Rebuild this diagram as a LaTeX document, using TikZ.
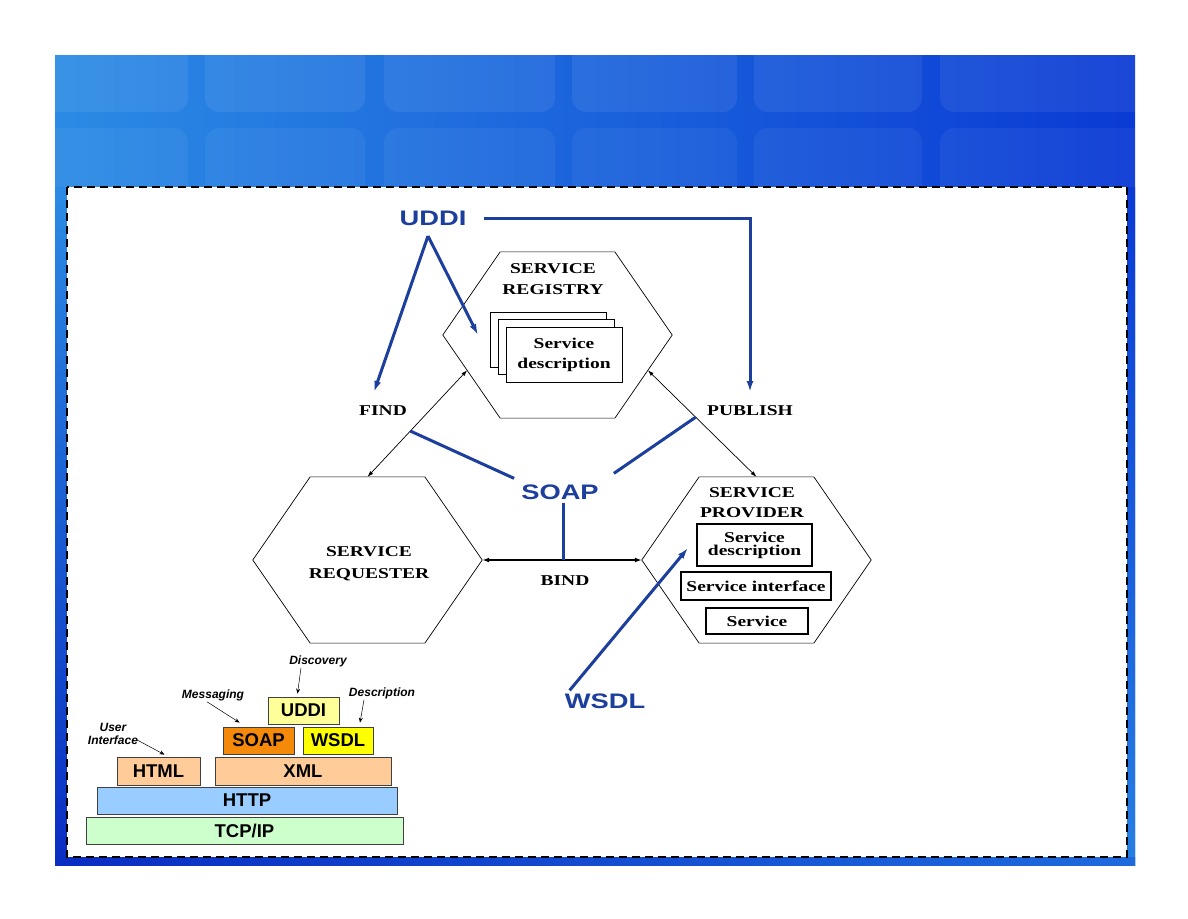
\documentclass[tikz,border=0pt]{standalone}
\usepackage{fontspec}
\setmainfont{Liberation Sans}
\newfontfamily\diagserif[FakeStretch=1.3]{Liberation Serif}
\newfontfamily\diagsans[FakeStretch=1.3]{Liberation Sans}
\usetikzlibrary{arrows.meta, shapes.geometric}
\definecolor{cnavy}  {HTML}{1C3E9C}
\definecolor{cskyl}  {HTML}{2B8BE4}
\definecolor{cskyd}  {HTML}{0A3AD4}
\definecolor{cdeep}  {HTML}{0A2DC2}
\definecolor{cdgray} {HTML}{404040}
\definecolor{ctcp}   {HTML}{CCFFCC}
\definecolor{chttp}  {HTML}{99CCFF}
\definecolor{cpeach} {HTML}{FFCC99}
\definecolor{corng}  {HTML}{F58A0A}
\definecolor{cyell}  {HTML}{FFFF00}
\definecolor{clyell} {HTML}{FFFF99}

\begin{document}
\begin{tikzpicture}[x=1pt, y=-1pt,
  hexa/.style  = {regular polygon, regular polygon sides=6, minimum size=192pt,
                  inner sep=0pt, outer sep=0pt, draw, line width=0.7pt, xscale=1.195},
  ttl/.style   = {font=\diagserif\bfseries\fontsize{15}{21}\selectfont, align=center},
  docbox/.style= {draw, fill=white, line width=0.9pt, inner sep=0pt,
                  minimum width=116pt, minimum height=55pt},
  pbox/.style  = {draw, fill=white, line width=1.1pt, inner sep=1pt, align=center,
                  font=\diagserif\bfseries\fontsize{15}{13}\selectfont},
  blbl/.style  = {font=\diagsans\bfseries\fontsize{21}{21}\selectfont, text=cnavy, inner sep=3pt},
  conn/.style  = {{Latex[length=6pt,width=4pt]}-{Latex[length=6pt,width=4pt]}, line width=0.7pt},
  bindl/.style = {{Latex[length=7pt,width=5pt]}-{Latex[length=7pt,width=5pt]}, line width=1.6pt},
  bline/.style = {cnavy, line width=3pt},
  barr/.style  = {bline, -{Latex[length=11pt,width=7pt]}},
  stk/.style   = {draw=cdgray, line width=0.8pt, inner sep=0pt,
                  font=\bfseries\fontsize{18.5}{18.5}\selectfont},
  tag/.style   = {font=\bfseries\itshape\fontsize{12}{13}\selectfont, align=center, inner sep=1pt},
  tagarr/.style= {-{Stealth[length=5pt,width=4pt]}, line width=0.5pt}
]
\useasboundingbox (0,0) rectangle (1188,918);
\fill[white] (0,0) rectangle (1188,918);

%% ── Slide background ──────────────────────────────────────────────────────
\shade[left color=cskyl, right color=cskyd] (55,55) rectangle (1135,865);
\begin{scope}
  \clip (55,55) rectangle (1135,187);
  \foreach \xa/\xb in {40/188, 205/365, 384/555, 572/737, 754/922, 940/1150} {
    \fill[white, opacity=0.07, rounded corners=14pt] (\xa,40) rectangle (\xb,112);
    \fill[white, opacity=0.05, rounded corners=14pt] (\xa,128) rectangle (\xb,240);
  }
\end{scope}
\shade[top color=cskyl, bottom color=cdeep] (55,187) rectangle (67,865);
\shade[top color=cskyd, bottom color=cskyl!85!cskyd] (1127,187) rectangle (1135,865);
\shade[left color=cdeep, right color=cskyl!60!cskyd] (55,857) rectangle (1135,865);
\draw[fill=white, line width=1.8pt, dash pattern=on 8pt off 5pt] (67,187) rectangle (1127,857);

%% ── Roles ─────────────────────────────────────────────────────────────────
\node[hexa] (reg)  at (557.5,335) {};
\node[hexa] (req)  at (367.5,560) {};
\node[hexa] (prov) at (756.5,560) {};

\node[ttl] (regt)  at (553,279) {SERVICE\\REGISTRY};
\node[ttl, font=\diagserif\bfseries\fontsize{15}{22}\selectfont] (reqt) at (369,564) {SERVICE\\REQUESTER};
\node[ttl, font=\diagserif\bfseries\fontsize{15}{20}\selectfont] (provt) at (752,503) {SERVICE\\PROVIDER};

% stacked descriptions in the registry
\node[docbox] (rdesc3) at (548,340)   {};
\node[docbox] (rdesc2) at (556,347)   {};
\node[docbox, align=center, font=\diagserif\bfseries\fontsize{15}{20}\selectfont]
             (rdesc1) at (564,354.5) {Service\\description};

% provider parts
\node[pbox, minimum width=115pt, minimum height=42pt] (pdesc) at (754.5,545) {Service\\description};
\node[pbox, minimum width=150pt, minimum height=28pt] (pintf) at (756,586)   {Service interface};
\node[pbox, minimum width=102pt, minimum height=26pt] (psvc)  at (757,621)   {Service};

%% ── Operations ────────────────────────────────────────────────────────────
\node[ttl] (find) at (383,411) {FIND};
\node[ttl] (pub)  at (750,411) {PUBLISH};
\node[ttl] (bind) at (565,581) {BIND};

\draw[conn]  (req.north) -- coordinate[pos=0.43] (findmid) (reg.205);
\draw[conn]  (reg.335) -- coordinate[pos=0.44] (pubmid) (prov.north);
\draw[bindl] (req.east) -- coordinate[pos=0.51] (bindmid) (prov.west);

%% ── Standards ─────────────────────────────────────────────────────────────
\node[blbl] (uddi) at (433,218) {UDDI};
\node[blbl] (soap) at (560,492) {SOAP};
\node[blbl] (wsdl) at (605,701) {WSDL};

\coordinate (fork)    at (428,236);
\coordinate (findtip) at (374,392);
\coordinate (regtip)  at (478,335);
\coordinate (pubtip)  at (750,392);
\coordinate (wsdltip) at (688,548);

% UDDI -> find, registry, publish
\draw[barr] (fork) -- (findtip);
\draw[barr] (fork) -- (regtip);
\draw[barr] ([xshift=14pt]uddi.east) -| (pubtip);

% SOAP -> the three operations
\draw[bline] ([xshift=-4pt,yshift=3pt]soap.north west) -- (findmid);
\draw[bline] ([xshift=12pt,yshift=8pt]soap.north east) -- (pubmid);
\draw[bline] (soap.south -| bindmid) -- (bindmid);

% WSDL -> provider description
\draw[barr] ([xshift=8pt]wsdl.north west) -- (wsdltip);

%% ── Protocol stack (bottom left) ──────────────────────────────────────────
\node[stk, fill=ctcp,   minimum width=317pt, minimum height=27pt] (stcp)  at (244.5,830.5) {TCP/IP};
\node[stk, fill=chttp,  minimum width=300pt, minimum height=27pt] (shttp) at (247,800.5)   {HTTP};
\node[stk, fill=cpeach, minimum width=83pt,  minimum height=28pt] (shtml) at (158.5,771)   {HTML};
\node[stk, fill=cpeach, minimum width=176pt, minimum height=28pt] (sxml)  at (303,771)     {XML};
\node[stk, fill=corng,  minimum width=71pt,  minimum height=27pt] (ssoap) at (258.5,740.5) {SOAP};
\node[stk, fill=cyell,  minimum width=70pt,  minimum height=27pt] (swsdl) at (338,740.5)   {WSDL};
\node[stk, fill=clyell, minimum width=71pt,  minimum height=27pt] (suddi) at (303.5,710.5) {UDDI};

\node[tag] (disc)  at (318,661) {Discovery};
\node[tag] (msg)   at (213,695) {Messaging};
\node[tag] (descr) at (382,693) {Description};
\node[tag] (ui)    at (113,734) {User\\Interface};

\draw[tagarr] ([xshift=-17pt]disc.south)  -- ([xshift=-6pt,yshift=3pt]suddi.north);
\draw[tagarr] ([xshift=-6pt]msg.south)    -- ([xshift=17pt,yshift=4pt]ssoap.north west);
\draw[tagarr] ([xshift=-18pt]descr.south) -- ([xshift=22pt,yshift=4pt]swsdl.north);
\draw[tagarr] ([xshift=-2pt,yshift=-6pt]ui.east) -- ([xshift=6pt,yshift=2pt]shtml.north);

\end{tikzpicture}
\end{document}
